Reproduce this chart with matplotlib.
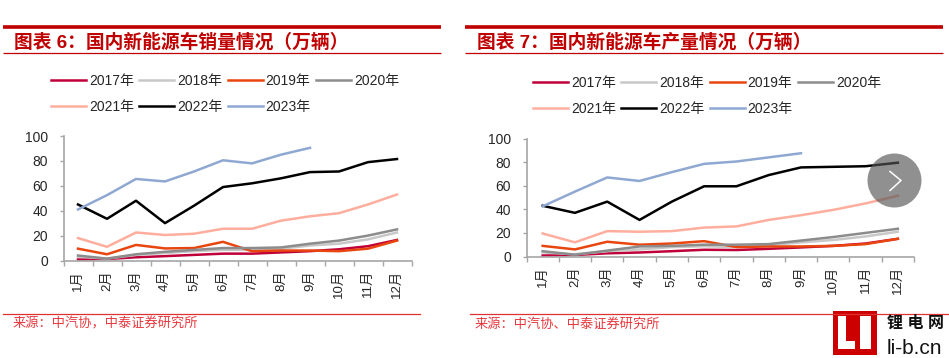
import matplotlib
matplotlib.use("Agg")
import matplotlib.pyplot as plt
from matplotlib.patches import Circle, Rectangle

plt.rcParams['font.family'] = ['Liberation Sans', 'Noto Sans CJK SC']

months = ['1月', '2月', '3月', '4月', '5月', '6月', '7月', '8月', '9月', '10月', '11月', '12月']
years = ['2017年', '2018年', '2019年', '2020年', '2021年', '2022年', '2023年']
colors = ['#C00039', '#C8C8C8', '#E8450F', '#8C8C8C', '#FFAE9E', '#000000', '#8FA8D2']

# 销量
sales_2017 = [0.8, 1.2, 2.6, 3.5, 4.5, 5.5, 5.5, 6.5, 7.5, 9, 11.5, 16.5]
sales_2018 = [3, 1.5, 4.5, 6, 7.5, 8.5, 8.5, 9.5, 12, 13.5, 17, 22.5]
sales_2019 = [9.5, 5, 12.5, 9.7, 10, 15, 7.5, 8, 8, 7.5, 9.5, 16]
sales_2020 = [4, 1.5, 5, 7, 8.5, 10, 10, 10.5, 13.5, 16, 20, 25]
sales_2021 = [18, 11, 22.5, 20.5, 21.5, 25.5, 25.5, 32, 35.5, 38, 45, 53]
sales_2022 = [45, 33.5, 48, 30, 44, 59, 62, 66, 71, 71.5, 79, 81.5]
sales_2023 = [41, 52.5, 65.5, 63.5, 71.5, 80.5, 78, 85, 90.5]

# 产量
prod_2017 = [0.8, 1.3, 2.7, 3.4, 4.5, 5.7, 5.5, 6.5, 7.7, 9, 11, 15]
prod_2018 = [3.5, 1.8, 4.5, 6, 8, 8.7, 8, 9.5, 12, 14, 17, 21]
prod_2019 = [9, 6, 12.5, 10, 11, 13, 8, 8.5, 8.5, 9, 10.5, 15]
prod_2020 = [4.5, 1.5, 5, 8.5, 9, 10, 10, 10.5, 13.5, 16.5, 20, 23.5]
prod_2021 = [19.5, 12, 21.5, 21, 21.5, 24.5, 25.5, 31, 35, 39.5, 45, 51.5]
prod_2022 = [43, 37, 46.5, 31, 46.5, 59.5, 59.5, 69, 75.5, 76, 76.5, 79.5]
prod_2023 = [42.5, 55, 67, 64, 71.5, 78.5, 80.5, 84, 87.5]

W, H = 949, 358
fig = plt.figure(figsize=(W / 100, H / 100), dpi=100)
RED = '#C00000'


def draw_panel(box, series, legend_xy):
    x0, x1, ytop, ybot = box
    ax = fig.add_axes([x0 / W, 1 - ybot / H, (x1 - x0) / W, (ybot - ytop) / H])
    lines = []
    for vals, c, name in zip(series, colors, years):
        xs = [i + 0.5 for i in range(len(vals))]
        l, = ax.plot(xs, vals, color=c, lw=1.8, label=name, solid_joinstyle='round', clip_on=False)
        lines.append(l)
    ax.set_xlim(0, 12)
    ax.set_ylim(0, 100)
    ax.set_yticks([0, 20, 40, 60, 80, 100])
    ax.set_xticks(range(13))
    ax.set_xticklabels([])
    ax.set_xticks([i + 0.5 for i in range(12)], minor=True)
    ax.set_xticklabels(months, minor=True, rotation=90)
    ax.tick_params(axis='x', which='minor', length=0, pad=7, labelsize=9.5, labelcolor='#262626')
    ax.tick_params(axis='x', which='major', length=3.5, width=1, color='#A6A6A6')
    ax.tick_params(axis='y', length=3, width=1, color='#A6A6A6', labelsize=10, labelcolor='#262626', pad=8)
    for s in ['top', 'right']:
        ax.spines[s].set_visible(False)
    for s in ['left', 'bottom']:
        ax.spines[s].set_color('#A6A6A6')
        ax.spines[s].set_linewidth(1.2)
    # 图例按行排列
    order = [0, 4, 1, 5, 2, 6, 3]
    fig.legend([lines[i] for i in order], [years[i] for i in order], ncol=4, frameon=False,
               loc='upper left', bbox_to_anchor=(legend_xy[0] / W, 1 - legend_xy[1] / H),
               borderaxespad=0, borderpad=0, fontsize=10, handlelength=2.5, handletextpad=0.22,
               columnspacing=0.4, labelspacing=0.87, labelcolor='#262626')
    return ax


draw_panel((63.5, 411.5, 136, 260.5),
           [sales_2017, sales_2018, sales_2019, sales_2020, sales_2021, sales_2022, sales_2023], (51, 74))
draw_panel((526.5, 914, 138.5, 256.5),
           [prod_2017, prod_2018, prod_2019, prod_2020, prod_2021, prod_2022, prod_2023], (533, 76))

# 其余元素用像素坐标
bg = fig.add_axes([0, 0, 1, 1], facecolor='none')
bg.set_xlim(0, W)
bg.set_ylim(H, 0)
bg.axis('off')

for a, b in [(3, 441), (465, 943)]:
    bg.plot([a, b], [26.5, 26.5], color=RED, lw=2.6, solid_capstyle='butt')
    bg.plot([a, b], [52.5, 52.5], color=RED, lw=0.9, solid_capstyle='butt')
bg.plot([3, 420], [313.5, 313.5], color='#E03030', lw=0.9)
bg.plot([470, 949], [313.5, 313.5], color='#E03030', lw=0.9)

bg.text(14, 42.5, '图表 6：国内新能源车销量情况（万辆）', color=RED, fontsize=13.5, fontweight='bold', va='center')
bg.text(477, 42.5, '图表 7：国内新能源车产量情况（万辆）', color=RED, fontsize=13.5, fontweight='bold', va='center')
bg.text(13, 324, '来源：中汽协，中泰证券研究所', color='#E8383D', fontsize=9.5, va='center')
bg.text(475, 324, '来源：中汽协、中泰证券研究所', color='#E8383D', fontsize=9.5, va='center')

# 翻页按钮
bg.add_patch(Circle((894.5, 180.5), 27, color='#555555', alpha=0.65, lw=0))
bg.plot([890, 901, 890], [171.5, 180.5, 190.5], color='white', lw=1.1)

# 水印
bg.add_patch(Rectangle((833, 311), 44, 44, color='#CC0000', lw=0))
bg.add_patch(Rectangle((838, 316), 8, 33, color='white', lw=0))
bg.add_patch(Rectangle((838, 341), 17, 8, color='white', lw=0))
bg.add_patch(Rectangle((860, 316), 11, 33, color='white', lw=0))
bg.text(887, 323, '锂 电 网', color='#111111', fontsize=11.5, fontweight='bold', va='center')
bg.text(887, 348, 'li-b.cn', color='#111111', fontsize=15, va='center')

fig.savefig('out.png', dpi=100)
